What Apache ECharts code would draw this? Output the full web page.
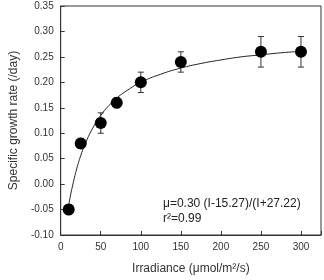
<!DOCTYPE html>
<html><head><meta charset="utf-8">
<script src="https://cdn.jsdelivr.net/npm/echarts@6/dist/echarts.min.js"></script>
<style>html,body{margin:0;padding:0;background:#fff}#c{width:324px;height:280px}</style>
</head><body><div id="c"></div>
<script>
var irradiance = [10, 25, 50, 70, 100, 150, 250, 300];
var growthRate = [-0.05, 0.08, 0.12, 0.16, 0.20, 0.24, 0.26, 0.26];
var errorSize = [0.01, 0.01, 0.02, 0.01, 0.02, 0.02, 0.03, 0.03];
var fitX = [9, 10, 12, 15, 20, 25, 30, 40, 50, 60, 70, 80, 100, 125, 150, 175, 200, 225, 250, 275, 300];
var fitY = [-0.052, -0.042, -0.024, -0.002, 0.030, 0.056, 0.077, 0.110, 0.135, 0.154, 0.169, 0.181, 0.200, 0.216, 0.228, 0.237, 0.244, 0.250, 0.254, 0.258, 0.261];
var yTicks = [-0.10, -0.05, 0.00, 0.05, 0.10, 0.15, 0.20, 0.25, 0.30, 0.35];
var xTicks = [0, 50, 100, 150, 200, 250, 300];
var equationText = 'μ=0.30 (I-15.27)/(I+27.22)';
var r2Text = 'r²=0.99';

var chart = echarts.init(document.getElementById('c'));
var font = 'Liberation Sans, Arial, sans-serif';
var pts = irradiance.map(function(x,i){return [x, growthRate[i]];});
var errs = irradiance.map(function(x,i){return [x, growthRate[i]-errorSize[i], growthRate[i]+errorSize[i]];});
var fit = fitX.map(function(x,i){return [x, fitY[i]];});
chart.setOption({
  animation:false,
  grid:{left:59,right:3,top:6,bottom:41,show:true,borderColor:'#333',borderWidth:1,backgroundColor:'transparent'},
  xAxis:{type:'value',min:0,max:325,interval:50,
    name:'Irradiance (μmol/m²/s)',nameLocation:'middle',nameGap:28,
    nameTextStyle:{fontFamily:font,fontSize:12,color:'#333'},
    axisLine:{show:true,onZero:false,lineStyle:{color:'#333'}},
    axisTick:{show:true,inside:true,length:4,lineStyle:{color:'#333'}},
    axisLabel:{fontFamily:font,fontSize:10,color:'#333',margin:7,
      formatter:function(v){return xTicks.indexOf(v)>=0?String(v):'';}},
    splitLine:{show:false}},
  yAxis:{type:'value',min:-0.10,max:0.35,interval:0.05,
    name:'Specific growth rate (/day)',nameLocation:'middle',nameGap:38,
    nameTextStyle:{fontFamily:font,fontSize:12,color:'#333'},
    axisLine:{show:true,onZero:false,lineStyle:{color:'#333'}},
    axisTick:{show:true,inside:true,length:4,lineStyle:{color:'#333'}},
    axisLabel:{fontFamily:font,fontSize:10,color:'#333',margin:7,
      formatter:function(v){var t=yTicks.find(function(k){return Math.abs(k-v)<1e-9;});return t===undefined?'':t.toFixed(2);}},
    splitLine:{show:false}},
  series:[
    {type:'line',data:fit,showSymbol:false,smooth:true,lineStyle:{color:'#222',width:1},z:1},
    {type:'custom',data:errs,z:2,
      renderItem:function(params,api){
        var x=api.value(0),lo=api.coord([x,api.value(1)]),hi=api.coord([x,api.value(2)]);
        var w=3;
        return {type:'group',children:[
          {type:'line',shape:{x1:lo[0],y1:lo[1],x2:hi[0],y2:hi[1]},style:{stroke:'#333',lineWidth:1}},
          {type:'line',shape:{x1:lo[0]-w,y1:lo[1],x2:lo[0]+w,y2:lo[1]},style:{stroke:'#333',lineWidth:1}},
          {type:'line',shape:{x1:hi[0]-w,y1:hi[1],x2:hi[0]+w,y2:hi[1]},style:{stroke:'#333',lineWidth:1}}
        ]};
      }},
    {type:'scatter',data:pts,symbol:'circle',symbolSize:12,itemStyle:{color:'#000',opacity:1},z:3}
  ],
  graphic:[
    {type:'text',left:163,top:198,style:{text:equationText,fontFamily:font,fontSize:12,fill:'#222'}},
    {type:'text',left:163,top:213,style:{text:r2Text,fontFamily:font,fontSize:12,fill:'#222'}}
  ]
});
</script></body></html>
